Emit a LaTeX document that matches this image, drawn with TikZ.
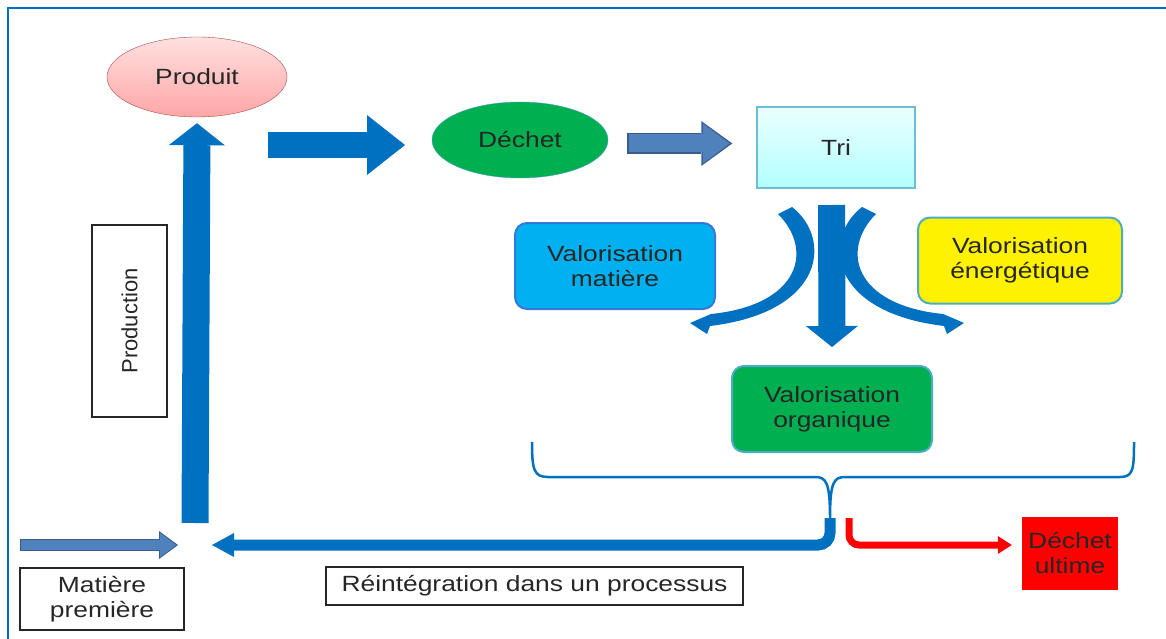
\documentclass[tikz,border=0pt]{standalone}
\usepackage{fontspec}
\setmainfont{Liberation Sans}[FakeStretch=1.2]
\newfontfamily\upfont{Liberation Sans}
\usetikzlibrary{positioning,shapes.geometric,arrows.meta}
\definecolor{flowblue}{HTML}{0070C0}
\definecolor{steelblue}{HTML}{4F81BD}
\definecolor{steeldark}{HTML}{385D8A}
\definecolor{edgecyan}{HTML}{4BACC6}
\definecolor{leafgreen}{HTML}{00B050}
\definecolor{skyblue}{HTML}{00B0F0}
\definecolor{inkgray}{HTML}{262626}

\begin{document}
\begin{tikzpicture}[x=1pt,y=-1pt,
    txt/.style={font=\fontsize{22}{25}\selectfont,text=inkgray,align=center},
    valbox/.style={txt,rectangle,rounded corners=12pt,draw=edgecyan,line width=2pt,minimum width=200pt,minimum height=86pt},
    tagbox/.style={txt,rectangle,draw=inkgray,line width=1.3pt},
    fatarrow/.style={draw=flowblue,line width=#1},
    steelarrow/.style={draw=steelblue,line width=#1}]
    \useasboundingbox (0,0) rectangle (1166,639);
    \draw[flowblue,line width=2pt] (8,650) -- (8,8) -- (1170,8);
    \node[txt,ellipse,draw=red!55!black!70,top color=red!12,bottom color=red!35,minimum width=180pt,minimum height=80pt] (produit) at (197,77) {Produit};
    \node[txt,ellipse,draw=flowblue!70,fill=leafgreen,minimum width=176pt,minimum height=76pt] (dechet) at (520,140) {Déchet};
    \node[txt,rectangle,draw=edgecyan!80,line width=1.5pt,top color=cyan!8,bottom color=cyan!30,minimum width=158pt,minimum height=81pt] (tri) at (836,147.5) {Tri};
    \node[valbox,fill=skyblue,draw=edgecyan!70!blue] (valmat) at (615,266) {Valorisation\\matière};
    \node[valbox,fill=yellow,minimum width=204pt] (valener) at (1020,260.5) {Valorisation\\énergétique};
    \node[valbox,fill=leafgreen] (valorg) at (832,409) {Valorisation\\organique};
    \node[txt,rectangle,fill=red,minimum width=96pt,minimum height=73pt] (ultime) at (1070,553.5) {Déchet\\ultime};
    \node[tagbox,minimum width=164pt,minimum height=62pt] (matiere) at (102,599) {Matière\\première};
    \node[tagbox,minimum width=417pt,minimum height=38pt] (reint) at (534.5,586) {Réintégration dans un processus};
    \node[tagbox,font=\upfont\fontsize{22}{25}\selectfont,rotate=90,minimum width=192pt,minimum height=75pt] (prod) at (129.5,321) {Production};
    \coordinate (prodstart) at (195,523);
    \coordinate (bigstart) at (268,145);
    \coordinate (bigend) at (405,145);
    \coordinate (tristart) at (627,143.5);
    \coordinate (downstart) at (831.5,205);
    \coordinate (rawstart) at (20,545);
    \coordinate (rawend) at (178,545);
    \coordinate (bracetip) at (830,518);
    \coordinate (loopcorner) at (830,545);
    \coordinate (loopend) at (212,545);
    \coordinate (wastecorner) at (849,545);
    \draw[fatarrow=27pt,-{Triangle[length=22pt,width=56pt,line width=0pt]}] (prodstart) -- ([yshift=-6pt]produit.south);
    \draw[fatarrow=26pt,-{Triangle[length=38pt,width=60pt,line width=0pt]}] (bigstart) -- (bigend);
    \draw[steelarrow=21pt,steeldark,-{Triangle[length=31pt,width=45pt,line width=0pt]}] (tristart) -- ([xshift=-24pt,yshift=4pt]tri.west);
    \draw[steelarrow=18pt,shorten <=1.5pt,-{Triangle[length=27pt,width=40pt,line width=0pt]}] (tristart) -- ([xshift=-26.5pt,yshift=4pt]tri.west);
    \draw[fatarrow=27pt,-{Triangle[length=21pt,width=52pt,line width=0pt]}] (downstart) -- ([yshift=18pt]valorg.north);
    \draw[steelarrow=12pt,steeldark,-{Triangle[length=19pt,width=28pt,line width=0pt]}] (rawstart) -- (rawend);
    \draw[steelarrow=9.5pt,shorten <=1.2pt,-{Triangle[length=16pt,width=24pt,line width=0pt]}] (rawstart) -- ([xshift=-1.8pt]rawend);
    \fill[flowblue] (792,207) .. controls (832,238) and (826,312) .. (710,326) -- (707,334) -- (690,323) -- (711,314) .. controls (800,305) and (814,250) .. (778,214) -- cycle;
    \begin{scope}[xshift=1654pt,xscale=-1]
        \fill[flowblue] (792,207) .. controls (832,238) and (826,312) .. (710,326) -- (707,334) -- (690,323) -- (711,314) .. controls (800,305) and (814,250) .. (778,214) -- cycle;
    \end{scope}
    \draw[flowblue,line width=2.5pt] (532,442) .. controls (532,470) and (534,477) .. (548,477) -- (815,477) .. controls (826,477) and (830,482) .. (bracetip)
        .. controls (830,482) and (834,477) .. (845,477) -- (1120,477) .. controls (1133,477) and (1134,470) .. (1134,442);
    \draw[fatarrow=11pt,rounded corners=12pt,-{Triangle[length=22pt,width=24pt,line width=0pt]}] (bracetip) -- (loopcorner) -- (loopend);
    \draw[draw=red,line width=7pt,rounded corners=10pt,-{Triangle[length=14pt,width=18pt,line width=0pt]}] ([xshift=19pt]bracetip) -- (wastecorner) -- ([xshift=-10pt,yshift=8.5pt]ultime.west);
\end{tikzpicture}
\end{document}
